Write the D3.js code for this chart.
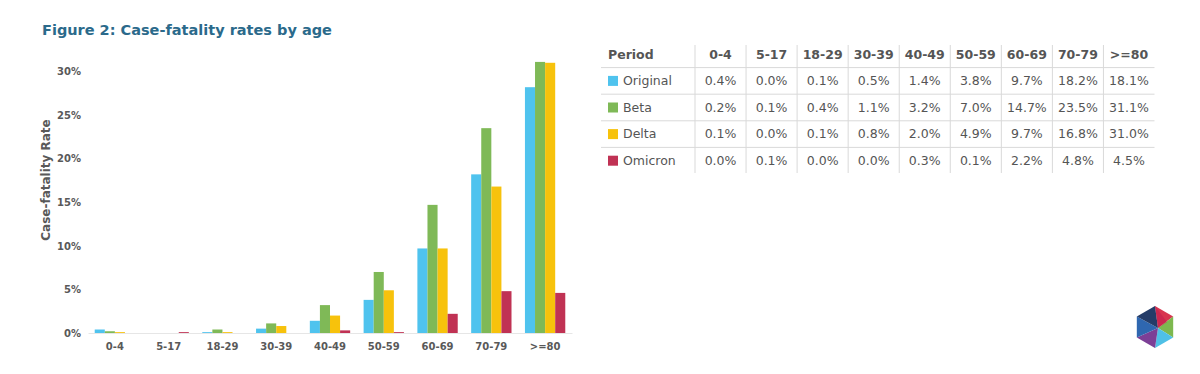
<!DOCTYPE html>
<html>
<head>
<meta charset="utf-8">
<script src="https://cdn.jsdelivr.net/npm/d3@7"></script>
<style>
  body { margin: 0; background: #fff; }
  svg { display: block; font-family: "DejaVu Sans", Verdana, sans-serif; }
</style>
</head>
<body>
<div id="chart"></div>
<script>
const ages = ["0-4", "5-17", "18-29", "30-39", "40-49", "50-59", "60-69", "70-79", ">=80"];
const periods = ["Original", "Beta", "Delta", "Omicron"];
const colors = ["#4fc3ee", "#7fb957", "#f7c20c", "#c03254"];

// bar heights (%) as drawn
const original = [0.4, 0.0, 0.1, 0.5, 1.4, 3.8, 9.7, 18.2, 28.2];
const beta     = [0.2, 0.0, 0.4, 1.1, 3.2, 7.0, 14.7, 23.5, 31.1];
const delta    = [0.1, 0.0, 0.1, 0.8, 2.0, 4.9, 9.7, 16.8, 31.0];
const omicron  = [0.0, 0.1, 0.0, 0.0, 0.3, 0.1, 2.2, 4.8, 4.6];

// table text as printed
const tableOriginal = ["0.4%", "0.0%", "0.1%", "0.5%", "1.4%", "3.8%", "9.7%", "18.2%", "18.1%"];
const tableBeta     = ["0.2%", "0.1%", "0.4%", "1.1%", "3.2%", "7.0%", "14.7%", "23.5%", "31.1%"];
const tableDelta    = ["0.1%", "0.0%", "0.1%", "0.8%", "2.0%", "4.9%", "9.7%", "16.8%", "31.0%"];
const tableOmicron  = ["0.0%", "0.1%", "0.0%", "0.0%", "0.3%", "0.1%", "2.2%", "4.8%", "4.5%"];

const yTicks = [0, 5, 10, 15, 20, 25, 30];

const series = [original, beta, delta, omicron];
const tableRows = [tableOriginal, tableBeta, tableDelta, tableOmicron];

const width = 1200, height = 374;
const svg = d3.select("#chart").append("svg")
  .attr("width", width)
  .attr("height", height);

// title
svg.append("text")
  .attr("x", 42)
  .attr("y", 35)
  .attr("fill", "#2b6a8b")
  .style("font-size", "14.5px")
  .style("font-weight", "bold")
  .text("Figure 2: Case-fatality rates by age");

// scales
const x0 = d3.scaleBand()
  .domain(ages)
  .range([88, 572])
  .paddingInner(0.25)
  .paddingOuter(0.125);
const x1 = d3.scaleBand()
  .domain(periods)
  .range([0, x0.bandwidth()]);
const y = d3.scaleLinear()
  .domain([0, 30])
  .range([333, 71.5]);

// y axis
const yAxis = svg.append("g")
  .attr("transform", "translate(84,0)")
  .call(d3.axisLeft(y).tickValues(yTicks).tickSize(0).tickFormat(d => d + "%"));
yAxis.select(".domain").remove();
yAxis.selectAll("text")
  .attr("fill", "#595959")
  .style("font-size", "10px")
  .style("font-weight", "bold")
  .style("font-family", "DejaVu Sans, Verdana, sans-serif");

svg.append("text")
  .attr("transform", "rotate(-90)")
  .attr("x", -180)
  .attr("y", 50)
  .attr("text-anchor", "middle")
  .attr("fill", "#595959")
  .style("font-size", "12px")
  .style("font-weight", "bold")
  .text("Case-fatality Rate");

// bars
const groups = svg.append("g")
  .selectAll("g")
  .data(ages)
  .enter().append("g")
  .attr("transform", d => `translate(${x0(d)},0)`);

groups.selectAll("rect")
  .data((d, i) => periods.map((p, j) => ({period: p, value: series[j][i]})))
  .enter().append("rect")
  .attr("x", d => x1(d.period))
  .attr("y", d => y(d.value))
  .attr("width", x1.bandwidth())
  .attr("height", d => y(0) - y(d.value))
  .attr("fill", (d, j) => colors[j]);

// x axis
const xAxis = svg.append("g")
  .attr("transform", "translate(0,333)")
  .call(d3.axisBottom(x0).tickSize(0).tickPadding(10));
xAxis.select(".domain").attr("stroke", "#e6e6e6");
xAxis.selectAll("text")
  .attr("fill", "#595959")
  .style("font-size", "10px")
  .style("font-weight", "bold")
  .style("font-family", "DejaVu Sans, Verdana, sans-serif");

// table
const colX = d3.scaleBand().domain(ages).range([695, 1154.5]);
const rowY = d3.scaleBand().domain(["Period"].concat(periods)).range([41, 174]);
const table = svg.append("g");

table.selectAll("line.h")
  .data(["Period"].concat(periods.slice(0, 3)))
  .enter().append("line")
  .attr("class", "h")
  .attr("x1", 601).attr("x2", 1154.5)
  .attr("y1", d => rowY(d) + rowY.bandwidth())
  .attr("y2", d => rowY(d) + rowY.bandwidth())
  .attr("stroke", "#d9d9d9");

table.selectAll("line.v")
  .data(ages)
  .enter().append("line")
  .attr("class", "v")
  .attr("x1", d => colX(d)).attr("x2", d => colX(d))
  .attr("y1", 45).attr("y2", 173)
  .attr("stroke", "#d9d9d9");

table.append("text")
  .attr("x", 608)
  .attr("y", rowY("Period") + rowY.bandwidth() / 2)
  .attr("dy", "0.35em")
  .attr("fill", "#555")
  .style("font-size", "12.5px")
  .style("font-weight", "bold")
  .text("Period");

table.selectAll("text.head")
  .data(ages)
  .enter().append("text")
  .attr("class", "head")
  .attr("x", d => colX(d) + colX.bandwidth() / 2)
  .attr("y", rowY("Period") + rowY.bandwidth() / 2)
  .attr("dy", "0.35em")
  .attr("text-anchor", "middle")
  .attr("fill", "#555")
  .style("font-size", "12.5px")
  .style("font-weight", "bold")
  .text(d => d);

periods.forEach((p, j) => {
  const cy = rowY(p) + rowY.bandwidth() / 2;
  table.append("rect")
    .attr("x", 608).attr("y", cy - 5)
    .attr("width", 10).attr("height", 10)
    .attr("fill", colors[j]);
  table.append("text")
    .attr("x", 623).attr("y", cy)
    .attr("dy", "0.35em")
    .attr("fill", "#555")
    .style("font-size", "12.5px")
    .text(p);
  table.selectAll(null)
    .data(tableRows[j])
    .enter().append("text")
    .attr("x", (d, i) => colX(ages[i]) + colX.bandwidth() / 2)
    .attr("y", cy)
    .attr("dy", "0.35em")
    .attr("text-anchor", "middle")
    .attr("fill", "#555")
    .style("font-size", "12.5px")
    .text(d => d);
});

// logo hexagon
const cx = 1155, cyL = 327, r = 21;
const hex = d3.range(6).map(k => {
  const a = Math.PI / 180 * (60 * k - 90);
  return [cx + r * Math.cos(a), cyL + r * Math.sin(a)];
});
const inner = [cx + 3, cyL + 1];
const logoColors = ["#d8344f", "#7db84f", "#4fc0e6", "#7c3f96", "#2f67b0", "#243c68"];
const logo = svg.append("g");
hex.forEach((pt, k) => {
  const nxt = hex[(k + 1) % 6];
  logo.append("path")
    .attr("d", d3.line()([inner, pt, nxt]) + "Z")
    .attr("fill", logoColors[k]);
});
logo.append("path")
  .attr("d", d3.line()([hex[0], inner, [cx + 12, cyL - 5]]) + "Z")
  .attr("fill", "#c42050").attr("opacity", 0.6);
</script>
</body>
</html>
